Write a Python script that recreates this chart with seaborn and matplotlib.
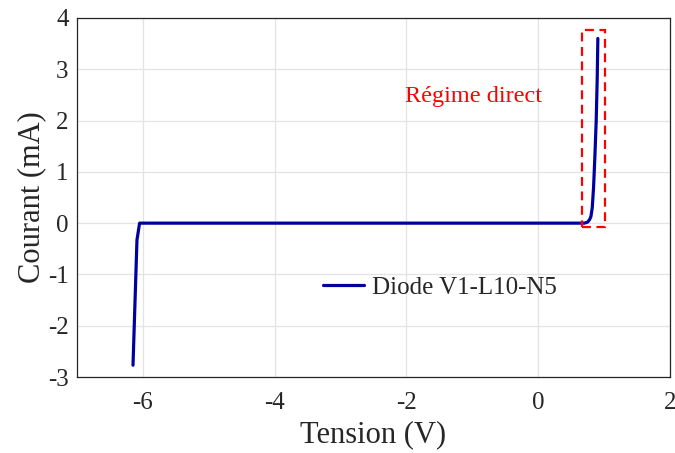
import matplotlib
matplotlib.use("Agg")
import matplotlib.pyplot as plt
import seaborn as sns
import pandas as pd
from matplotlib.patches import Rectangle

# Data
tension = [-6.15, -6.09, -6.05, 0.70, 0.75, 0.78, 0.80, 0.82, 0.84, 0.86, 0.88, 0.895, 0.905]
courant = [-2.77, -0.33, 0.00, 0.00, 0.02, 0.07, 0.13, 0.30, 0.70, 1.30, 2.00, 2.80, 3.60]
series_label = "Diode V1-L10-N5"
xticks = [-6, -4, -2, 0, 2]
yticks = [-3, -2, -1, 0, 1, 2, 3, 4]
annotation_text = "Régime direct"

df = pd.DataFrame({"Tension": tension, "Courant": courant, "serie": series_label})

sns.set_style("whitegrid")
plt.rcParams["font.family"] = ["Liberation Serif", "DejaVu Serif"]

fig = plt.figure(figsize=(6.75, 4.53), dpi=100)
ax = fig.add_axes([77/675, 1-377/453, 593/675, 359/453])

sns.lineplot(data=df, x="Tension", y="Courant", hue="serie", sort=False,
             palette=["#0000a0"], linewidth=2.3, ax=ax, estimator=None)

ax.set_xlim(-7, 2)
ax.set_ylim(-3, 4)
ax.set_xticks(xticks)
ax.set_yticks(yticks)
ax.set_xticklabels([str(t) for t in xticks])
ax.set_yticklabels([str(t) for t in yticks])
ax.tick_params(axis="both", labelsize=18, direction="in", length=4, width=0.8,
               colors="#262626")
ax.tick_params(axis="x", pad=11)
ax.tick_params(axis="y", pad=6)
ax.set_xlabel("Tension (V)", fontsize=22, color="#262626", labelpad=4)
ax.set_ylabel("Courant (mA)", fontsize=22, color="#262626", labelpad=1)
ax.grid(True, color="#e3e3e3", linewidth=0.9)
for s in ax.spines.values():
    s.set_visible(True)
    s.set_color("#262626")
    s.set_linewidth(0.9)

rect = Rectangle((0.66, -0.07), 0.36, 3.83, fill=False, edgecolor="red",
                 linestyle=(0, (4, 2.5)), linewidth=1.6, zorder=5)
ax.add_patch(rect)
ax.text(-0.98, 2.46, annotation_text, color="red", fontsize=17.5,
        ha="center", va="center")

leg = ax.legend(loc="center left", bbox_to_anchor=(0.415, 0.248), frameon=False,
                fontsize=18, handlelength=1.65, handletextpad=0.3,
                borderpad=0, borderaxespad=0)

fig.savefig("out.png", dpi=100)
